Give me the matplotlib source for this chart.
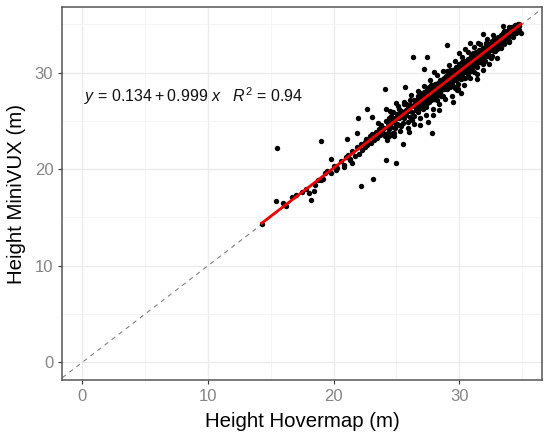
import matplotlib
matplotlib.use("Agg")
import matplotlib.pyplot as plt

plt.rcParams['font.family'] = ['Liberation Sans', 'DejaVu Sans']
plt.rcParams['mathtext.fontset'] = 'custom'
plt.rcParams['mathtext.rm'] = 'Liberation Sans'
plt.rcParams['mathtext.it'] = 'Liberation Sans:italic'

# ---- data ----
outlier_x = [15.48, 15.40, 14.28, 16.72, 17.52, 18.21, 18.47, 18.05, 19.00, 19.80,
             18.98, 19.32, 20.20, 20.86, 21.10, 21.18, 21.50, 21.89, 21.93, 22.19,
             22.64, 23.17, 23.09, 22.51, 24.10, 24.16, 24.16, 24.95, 24.24, 25.56,
             26.33, 27.42, 25.69, 27.23, 27.82, 26.91, 29.01, 30.87, 31.88, 31.51,
             31.40, 30.13, 29.81, 29.97, 33.95, 34.90, 34.53, 33.52, 24.84, 24.10,
             27.95, 28.42, 21.05, 21.31, 23.52]
outlier_y = [22.15, 16.67, 14.29, 17.14, 17.66, 16.80, 17.76, 17.56, 22.94, 21.01,
             18.87, 19.57, 19.91, 20.25, 23.08, 21.46, 20.66, 23.71, 25.26, 18.28,
             26.22, 18.94, 25.36, 22.84, 28.26, 26.19, 20.94, 20.66, 23.01, 22.57,
             31.64, 31.57, 28.47, 30.39, 23.77, 24.56, 32.85, 33.02, 33.99, 33.09,
             29.30, 27.85, 28.19, 32.05, 33.13, 34.12, 34.81, 34.81, 23.71, 23.40,
             25.60, 26.12, 21.22, 20.90, 24.80]

low_x = [16.0, 16.2, 17.0, 17.8, 18.5, 18.8, 19.2, 19.5, 19.8, 20.0, 20.3, 20.6, 20.8,
         21.0, 21.3, 21.5, 21.7, 21.9, 22.0, 22.2, 22.3, 22.5, 22.6, 22.7, 22.9, 23.0,
         23.1, 23.2, 23.4, 23.5, 23.6, 23.7, 23.8, 23.9, 24.0, 24.1, 24.2, 24.3]
low_y = [16.5, 16.2, 17.3, 17.9, 18.4, 18.9, 19.0, 19.8, 19.6, 20.3, 20.1, 20.8, 20.4,
         21.3, 21.0, 21.9, 21.4, 22.3, 21.6, 22.6, 22.0, 22.3, 23.1, 22.5, 23.4, 22.7,
         23.6, 23.0, 23.8, 23.2, 24.2, 23.5, 24.6, 23.7, 24.3, 23.6, 25.0, 24.4]

mid_x = [24.3, 24.3, 24.3, 24.45, 24.45, 24.45, 24.6, 24.6, 24.6, 24.75, 24.75, 24.75,
         24.9, 24.9, 24.9, 25.05, 25.05, 25.05, 25.2, 25.2, 25.2, 25.35, 25.35, 25.35,
         25.5, 25.5, 25.5, 25.65, 25.65, 25.65, 25.8, 25.8, 25.8, 25.95, 25.95, 25.95,
         26.1, 26.1, 26.1, 26.25, 26.25, 26.25, 26.4, 26.4, 26.4, 26.55, 26.55, 26.55,
         26.7, 26.7, 26.7, 26.85, 26.85, 26.85]
mid_y = [24.8, 23.7, 24.4, 24.15, 25.25, 23.45, 25.5, 24.4, 24.9, 24.95, 23.75, 25.95,
         24.3, 25.3, 24.8, 25.75, 24.65, 25.25, 25.3, 26.2, 24.6, 24.45, 25.65, 26.05,
         25.9, 24.8, 25.5, 26.75, 25.65, 25.25, 25.6, 26.7, 26.1, 26.55, 24.85, 26.05,
         25.4, 26.6, 27.2, 26.55, 25.95, 25.05, 27.2, 25.5, 26.6, 26.15, 27.15, 26.45,
         26.9, 25.9, 27.6, 27.85, 26.75, 26.35]

core_x = [27.0, 27.12, 27.24, 27.36, 27.48, 27.6, 27.72, 27.84, 27.96, 28.08, 28.2,
          28.32, 28.44, 28.56, 28.68, 28.8, 28.92, 29.04, 29.16, 29.28, 29.4, 29.52,
          29.64, 29.76, 29.88, 30.0, 30.12, 30.24, 30.36, 30.48, 30.6, 30.72, 30.84,
          30.96, 31.08, 31.2, 31.32, 31.44, 31.56, 31.68, 31.8, 31.92, 32.04, 32.16,
          32.28, 32.4, 32.52, 32.64, 32.76, 32.88, 33.0]
core_y1 = [27.4, 26.82, 27.94, 27.46, 26.88, 28.5, 27.92, 27.64, 28.46, 27.28, 28.5,
           28.32, 29.24, 28.16, 28.88, 29.4, 28.82, 28.34, 29.56, 29.38, 30.3, 29.22,
           29.94, 29.26, 30.58, 30.0, 29.92, 30.74, 29.46, 30.68, 31.2, 30.32, 30.94,
           31.76, 30.88, 31.5, 30.72, 31.94, 31.56, 32.38, 31.5, 32.12, 31.24, 32.56,
           32.38, 33.0, 32.32, 32.94, 32.26, 33.08, 33.4]
core_y2 = [26.5, 27.72, 27.14, 26.46, 27.78, 27.2, 28.72, 28.34, 27.26, 28.28, 27.2,
           28.92, 28.14, 28.96, 27.58, 28.6, 29.62, 29.34, 28.56, 30.28, 29.0, 30.02,
           28.44, 30.16, 29.58, 30.9, 29.32, 30.14, 30.86, 29.48, 30.3, 31.42, 30.14,
           30.76, 31.68, 30.1, 31.72, 31.14, 32.36, 31.08, 32.3, 30.92, 32.34, 31.76,
           32.98, 31.7, 32.72, 31.74, 33.26, 32.58, 32.4]
core_y3 = [27.1, 26.22, 27.54, 27.96, 27.28, 27.6, 27.12, 28.74, 28.16, 27.78, 28.7,
           27.72, 28.54, 27.56, 29.28, 28.3, 29.12, 30.14, 29.06, 28.88, 29.6, 28.62,
           30.34, 29.76, 28.78, 30.3, 30.72, 29.64, 30.46, 31.18, 30.1, 30.72, 31.34,
           30.16, 30.58, 31.3, 32.12, 30.54, 31.86, 31.68, 31.1, 32.52, 31.94, 33.06,
           31.68, 32.6, 31.52, 33.24, 32.76, 32.18, 33.1]
core_y4 = [26.8, 27.32, 26.74, 27.76, 28.28, 26.9, 28.12, 27.44, 27.86, 28.78, 28.0,
           28.62, 27.84, 28.76, 28.38, 29.1, 28.42, 29.04, 29.86, 28.48, 29.4, 29.92,
           29.24, 30.56, 30.08, 29.4, 30.42, 31.04, 30.06, 30.08, 30.9, 29.82, 31.24,
           31.16, 31.98, 30.9, 31.12, 31.64, 31.06, 32.08, 32.0, 31.52, 32.64, 31.86,
           32.08, 32.4, 33.02, 32.34, 33.46, 33.28, 32.8]

spread_x = [24.5, 24.8, 25.1, 25.3, 25.6, 25.9, 26.2, 26.4, 26.7, 26.9, 27.2, 27.4,
            27.7, 27.9, 28.2, 28.4, 28.7, 28.9, 29.2, 29.4, 29.7, 29.9, 30.2, 30.4,
            30.7, 30.9, 31.2, 31.4, 31.7, 31.9, 32.2, 32.4, 32.7, 33.0, 25.0, 26.0,
            27.5, 28.0, 29.5, 30.5]
spread_y = [26.0, 23.4, 26.5, 23.9, 27.0, 24.3, 27.7, 24.7, 28.1, 25.3, 28.6, 25.6,
            29.2, 26.2, 29.7, 26.7, 30.2, 27.3, 30.8, 27.6, 31.2, 28.3, 31.6, 28.7,
            32.1, 29.4, 32.6, 29.8, 33.0, 30.3, 33.5, 30.9, 33.9, 31.5, 26.8, 23.8,
            24.9, 30.1, 26.9, 32.4]

top_x = [33.12, 33.12, 33.12, 33.24, 33.24, 33.24, 33.36, 33.36, 33.36, 33.48, 33.48,
         33.48, 33.6, 33.6, 33.6, 33.72, 33.72, 33.72, 33.84, 33.84, 33.84, 33.96, 33.96,
         33.96, 34.08, 34.08, 34.08, 34.2, 34.2, 34.2, 34.32, 34.32, 34.32, 34.44, 34.44,
         34.44, 34.56, 34.56, 34.56, 34.68, 34.68, 34.68, 34.8, 34.8, 34.8]
top_y = [33.42, 32.62, 33.72, 32.84, 33.44, 33.14, 33.86, 32.56, 33.46, 33.48, 34.08,
         33.18, 33.0, 33.7, 34.3, 34.12, 33.22, 33.72, 33.64, 34.34, 33.24, 34.26, 33.26,
         34.76, 33.78, 34.48, 34.18, 34.4, 33.8, 34.7, 34.72, 34.12, 33.72, 34.34, 34.74,
         34.95, 34.76, 34.06, 34.46, 34.78, 34.48, 34.98, 34.8, 34.4, 35.0]

intercept = 0.134
slope = 0.999
r2 = 0.94

x_ticks = [0, 10, 20, 30]
y_ticks = [0, 10, 20, 30]

# ---- assemble ----
xs = outlier_x + low_x + mid_x + core_x * 4 + spread_x + top_x
ys = outlier_y + low_y + mid_y + core_y1 + core_y2 + core_y3 + core_y4 + spread_y + top_y

fig = plt.figure(figsize=(5.5, 4.41), dpi=100)
ax = fig.add_axes([0.1133, 0.1383, 0.986 - 0.1133, 0.9834 - 0.1383])

xlim = (-1.59, 36.62)
ylim = (-1.83, 36.75)
ax.set_xlim(*xlim)
ax.set_ylim(*ylim)

ax.set_xticks(x_ticks)
ax.set_yticks(y_ticks)
ax.set_xticks([5, 15, 25, 35], minor=True)
ax.set_yticks([5, 15, 25, 35], minor=True)
ax.grid(which='major', color='#EBEBEB', lw=1.0, zorder=0)
ax.grid(which='minor', color='#F3F3F3', lw=0.6, zorder=0)
ax.tick_params(which='minor', length=0)
ax.tick_params(which='major', length=3, width=0.8, color='#333333',
               labelcolor='#858585', labelsize=12, pad=3.5)
for s in ax.spines.values():
    s.set_color('#555555')
    s.set_linewidth(1.1)
ax.set_axisbelow(True)

# 1:1 line
ax.plot(list(xlim), list(xlim), ls=(0, (4, 4)), color='#7f7f7f', lw=0.8, zorder=1)

ax.scatter(xs, ys, s=15, c='black', linewidths=0, zorder=2)

xmin, xmax = min(xs), max(xs)
ax.plot([xmin, xmax], [intercept + slope * xmin, intercept + slope * xmax],
        color='#ee0000', lw=2.0, zorder=3)

ax.text(0.15, 27.6, '$y$ = 0.134\u2009+\u20090.999 $x$   $R^2$ = 0.94',
        fontsize=11.5, va='center', ha='left', color='#111111')

ax.set_xlabel('Height Hovermap (m)', fontsize=14.7, labelpad=6)
ax.set_ylabel('Height MiniVUX (m)', fontsize=14.7, labelpad=6)

fig.savefig('out.png', dpi=100)
